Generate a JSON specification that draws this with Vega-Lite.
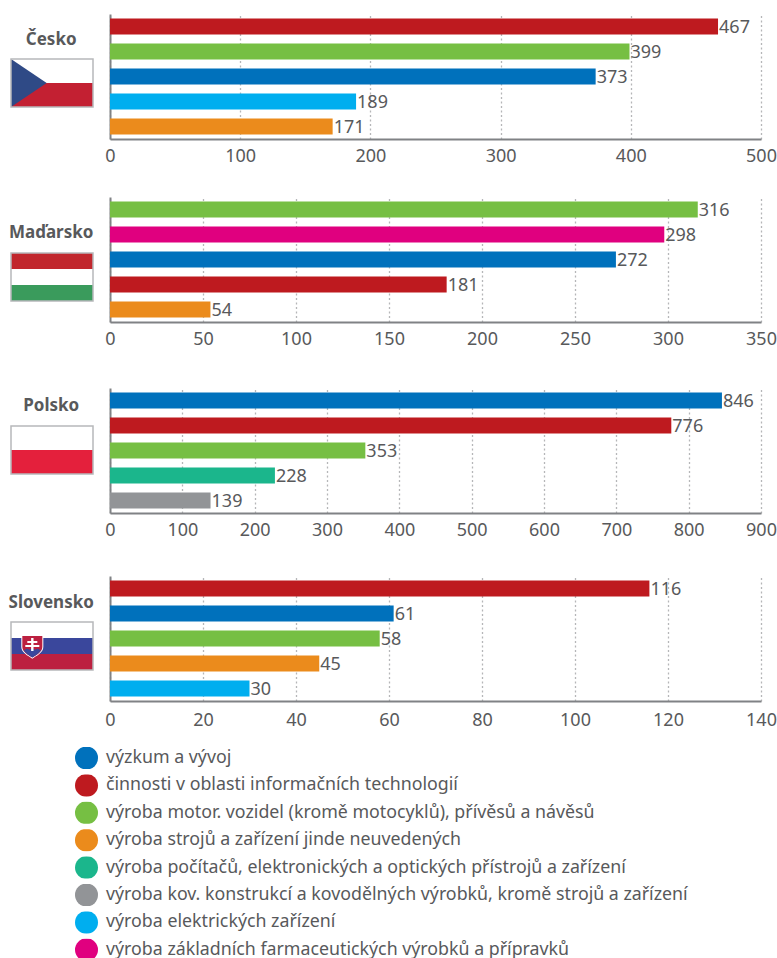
{
"$schema":"https://vega.github.io/schema/vega-lite/v6.json",
"padding":{"left":8,"top":14,"right":0,"bottom":0},
"background":"white",
"config":{"font":"Noto Sans","view":{"stroke":null},"text":{"color":"#58595b"},
"axisX":{"grid":true,"gridColor":"#b5b6b8","gridDash":[2,2.5],"gridWidth":1.3,"domainColor":"#808285","domainWidth":2,"ticks":false,"labelFontSize":18,"labelColor":"#58595b","labelPadding":8,"title":null,"labelFlush":false,"labelOverlap":false},
"axisY":{"grid":false,"domainColor":"#808285","domainWidth":2,"ticks":false,"labels":false,"title":null}},
"datasets":{
"cz":[{"a":"činnosti v oblasti informačních technologií","v":467},{"a":"výroba motor. vozidel (kromě motocyklů), přívěsů a návěsů","v":399},{"a":"výzkum a vývoj","v":373},{"a":"výroba elektrických zařízení","v":189},{"a":"výroba strojů a zařízení jinde neuvedených","v":171}],
"hu":[{"a":"výroba motor. vozidel (kromě motocyklů), přívěsů a návěsů","v":316},{"a":"výroba základních farmaceutických výrobků a přípravků","v":298},{"a":"výzkum a vývoj","v":272},{"a":"činnosti v oblasti informačních technologií","v":181},{"a":"výroba strojů a zařízení jinde neuvedených","v":54}],
"pl":[{"a":"výzkum a vývoj","v":846},{"a":"činnosti v oblasti informačních technologií","v":776},{"a":"výroba motor. vozidel (kromě motocyklů), přívěsů a návěsů","v":353},{"a":"výroba počítačů, elektronických a optických přístrojů a zařízení","v":228},{"a":"výroba kov. konstrukcí a kovodělných výrobků, kromě strojů a zařízení","v":139}],
"sk":[{"a":"činnosti v oblasti informačních technologií","v":116},{"a":"výzkum a vývoj","v":61},{"a":"výroba motor. vozidel (kromě motocyklů), přívěsů a návěsů","v":58},{"a":"výroba strojů a zařízení jinde neuvedených","v":45},{"a":"výroba elektrických zařízení","v":30}]
},
"resolve":{"scale":{"color":"shared","fill":"shared"},"legend":{"color":"shared"}},
"spacing":58,
"bounds":"flush",
"vconcat":[
{"width":651,"height":125,"resolve":{"scale":{"x":"independent","y":"independent"},"axis":{"x":"independent","y":"independent"}},
"layer":[
{"data":{"name":"cz"},"mark":{"type":"bar","size":16},"encoding":{"y":{"field":"a","type":"nominal","sort":{"field":"v","order":"descending"},"scale":{"paddingInner":0.36,"paddingOuter":0.18}},"x":{"field":"v","type":"quantitative","scale":{"domain":[0,500]},"axis":{"values":[0,100,200,300,400,500]}},"color":{"field":"a","type":"nominal","scale":{"domain":["výzkum a vývoj","činnosti v oblasti informačních technologií","výroba motor. vozidel (kromě motocyklů), přívěsů a návěsů","výroba strojů a zařízení jinde neuvedených","výroba počítačů, elektronických a optických přístrojů a zařízení","výroba kov. konstrukcí a kovodělných výrobků, kromě strojů a zařízení","výroba elektrických zařízení","výroba základních farmaceutických výrobků a přípravků"],"range":["#0071bc","#be1a1f","#76bf43","#eb8b1c","#1bb68c","#929497","#00aeef","#e0007f"]},"legend":{"title":null,"orient":"none","legendX":-35,"legendY":733,"symbolType":"circle","symbolSize":529,"symbolStrokeWidth":0,"symbolOpacity":1,"labelFontSize":17.8,"labelColor":"#58595b","labelLimit":700,"rowPadding":5.4,"padding":0,"labelOffset":8,"clipHeight":22}}}},
{"data":{"name":"cz"},"mark":{"type":"text","align":"left","dx":1,"dy":1,"fontSize":18},"encoding":{"y":{"field":"a","type":"nominal","sort":{"field":"v","order":"descending"},"scale":{"paddingInner":0.36,"paddingOuter":0.18},"axis":null},"x":{"field":"v","type":"quantitative","scale":{"domain":[0,500]},"axis":null},"text":{"field":"v"}}},
{"data":{"values":[{"p":"bílá","x0":0,"x1":1,"y0":0,"y1":0.5},{"p":"červená CZ","x0":0,"x1":1,"y0":0.5,"y1":1}]},"mark":{"type":"rect"},"encoding":{"x":{"field":"x0","type":"quantitative","scale":{"domain":[0,1],"range":[-99,-17],"zero":false,"nice":false},"axis":null},"x2":{"field":"x1"},"y":{"field":"y0","type":"quantitative","scale":{"domain":[0,1],"range":[45,93],"zero":false,"nice":false},"axis":null},"y2":{"field":"y1"},"fill":{"field":"p","type":"nominal","scale":{"domain":["bílá","červená CZ","modrá CZ","červená HU","zelená HU","červená PL","modrá SK","červená SK"],"range":["#ffffff","#c32032","#2f4a86","#c1272d","#3a9b5c","#e4203c","#3a479c","#bc2040"]},"legend":null}}},
{"data":{"values":[{"x":0,"y0":0,"y1":1},{"x":0.435,"y0":0.5,"y1":0.5}]},"mark":{"type":"area","orient":"vertical","color":"#2f4a86"},"encoding":{"x":{"field":"x","type":"quantitative","scale":{"domain":[0,1],"range":[-99,-17],"zero":false,"nice":false},"axis":null},"y":{"field":"y0","type":"quantitative","scale":{"domain":[0,1],"range":[45,93],"zero":false,"nice":false},"axis":null},"y2":{"field":"y1"}}},
{"data":{"values":[{"x0":0,"x1":1,"y0":0,"y1":1}]},"mark":{"type":"rect","filled":false,"stroke":"#b7b8ba","strokeWidth":1.5},"encoding":{"x":{"field":"x0","type":"quantitative","scale":{"domain":[0,1],"range":[-99,-17],"zero":false,"nice":false},"axis":null},"x2":{"field":"x1"},"y":{"field":"y0","type":"quantitative","scale":{"domain":[0,1],"range":[45,93],"zero":false,"nice":false},"axis":null},"y2":{"field":"y1"}}},
{"data":{"values":[{"n":"Česko","x":0.49,"y":-0.44}]},"mark":{"type":"text","fontSize":17,"fontWeight":"bold","color":"#58595b","dy":2},"encoding":{"x":{"field":"x","type":"quantitative","scale":{"domain":[0,1],"range":[-99,-17],"zero":false,"nice":false},"axis":null},"y":{"field":"y","type":"quantitative","scale":{"domain":[0,1],"range":[45,93],"zero":false,"nice":false},"axis":null},"text":{"field":"n"}}}
]},
{"spacing":66,"bounds":"flush","resolve":{"scale":{"color":"shared","fill":"shared"},"legend":{"color":"shared"}},"vconcat":[
{"width":651,"height":125,"resolve":{"scale":{"x":"independent","y":"independent"},"axis":{"x":"independent","y":"independent"}},
"layer":[
{"data":{"name":"hu"},"mark":{"type":"bar","size":16},"encoding":{"y":{"field":"a","type":"nominal","sort":{"field":"v","order":"descending"},"scale":{"paddingInner":0.36,"paddingOuter":0.18}},"x":{"field":"v","type":"quantitative","scale":{"domain":[0,350]},"axis":{"values":[0,50,100,150,200,250,300,350]}},"color":{"field":"a","type":"nominal"}}},
{"data":{"name":"hu"},"mark":{"type":"text","align":"left","dx":1,"dy":1,"fontSize":18},"encoding":{"y":{"field":"a","type":"nominal","sort":{"field":"v","order":"descending"},"scale":{"paddingInner":0.36,"paddingOuter":0.18},"axis":null},"x":{"field":"v","type":"quantitative","scale":{"domain":[0,350]},"axis":null},"text":{"field":"v"}}},
{"data":{"values":[{"p":"červená HU","x0":0,"x1":1,"y0":0,"y1":0.333},{"p":"bílá","x0":0,"x1":1,"y0":0.333,"y1":0.667},{"p":"zelená HU","x0":0,"x1":1,"y0":0.667,"y1":1}]},"mark":{"type":"rect"},"encoding":{"x":{"field":"x0","type":"quantitative","scale":{"domain":[0,1],"range":[-99,-17],"zero":false,"nice":false},"axis":null},"x2":{"field":"x1"},"y":{"field":"y0","type":"quantitative","scale":{"domain":[0,1],"range":[56,104],"zero":false,"nice":false},"axis":null},"y2":{"field":"y1"},"fill":{"field":"p","type":"nominal","legend":null}}},
{"data":{"values":[{"x0":0,"x1":1,"y0":0,"y1":1}]},"mark":{"type":"rect","filled":false,"stroke":"#b7b8ba","strokeWidth":1.5},"encoding":{"x":{"field":"x0","type":"quantitative","scale":{"domain":[0,1],"range":[-99,-17],"zero":false,"nice":false},"axis":null},"x2":{"field":"x1"},"y":{"field":"y0","type":"quantitative","scale":{"domain":[0,1],"range":[56,104],"zero":false,"nice":false},"axis":null},"y2":{"field":"y1"}}},
{"data":{"values":[{"n":"Maďarsko","x":0.49,"y":-0.46}]},"mark":{"type":"text","fontSize":17,"fontWeight":"bold","color":"#58595b","dy":2},"encoding":{"x":{"field":"x","type":"quantitative","scale":{"domain":[0,1],"range":[-99,-17],"zero":false,"nice":false},"axis":null},"y":{"field":"y","type":"quantitative","scale":{"domain":[0,1],"range":[56,104],"zero":false,"nice":false},"axis":null},"text":{"field":"n"}}}
]},
{"spacing":63,"bounds":"flush","resolve":{"scale":{"color":"shared","fill":"shared"},"legend":{"color":"shared"}},"vconcat":[
{"width":651,"height":125,"resolve":{"scale":{"x":"independent","y":"independent"},"axis":{"x":"independent","y":"independent"}},
"layer":[
{"data":{"name":"pl"},"mark":{"type":"bar","size":16},"encoding":{"y":{"field":"a","type":"nominal","sort":{"field":"v","order":"descending"},"scale":{"paddingInner":0.36,"paddingOuter":0.18}},"x":{"field":"v","type":"quantitative","scale":{"domain":[0,900]},"axis":{"values":[0,100,200,300,400,500,600,700,800,900]}},"color":{"field":"a","type":"nominal"}}},
{"data":{"name":"pl"},"mark":{"type":"text","align":"left","dx":1,"dy":1,"fontSize":18},"encoding":{"y":{"field":"a","type":"nominal","sort":{"field":"v","order":"descending"},"scale":{"paddingInner":0.36,"paddingOuter":0.18},"axis":null},"x":{"field":"v","type":"quantitative","scale":{"domain":[0,900]},"axis":null},"text":{"field":"v"}}},
{"data":{"values":[{"p":"bílá","x0":0,"x1":1,"y0":0,"y1":0.5},{"p":"červená PL","x0":0,"x1":1,"y0":0.5,"y1":1}]},"mark":{"type":"rect"},"encoding":{"x":{"field":"x0","type":"quantitative","scale":{"domain":[0,1],"range":[-99,-17],"zero":false,"nice":false},"axis":null},"x2":{"field":"x1"},"y":{"field":"y0","type":"quantitative","scale":{"domain":[0,1],"range":[38,86],"zero":false,"nice":false},"axis":null},"y2":{"field":"y1"},"fill":{"field":"p","type":"nominal","legend":null}}},
{"data":{"values":[{"x0":0,"x1":1,"y0":0,"y1":1}]},"mark":{"type":"rect","filled":false,"stroke":"#b7b8ba","strokeWidth":1.5},"encoding":{"x":{"field":"x0","type":"quantitative","scale":{"domain":[0,1],"range":[-99,-17],"zero":false,"nice":false},"axis":null},"x2":{"field":"x1"},"y":{"field":"y0","type":"quantitative","scale":{"domain":[0,1],"range":[38,86],"zero":false,"nice":false},"axis":null},"y2":{"field":"y1"}}},
{"data":{"values":[{"n":"Polsko","x":0.49,"y":-0.46}]},"mark":{"type":"text","fontSize":17,"fontWeight":"bold","color":"#58595b","dy":2},"encoding":{"x":{"field":"x","type":"quantitative","scale":{"domain":[0,1],"range":[-99,-17],"zero":false,"nice":false},"axis":null},"y":{"field":"y","type":"quantitative","scale":{"domain":[0,1],"range":[38,86],"zero":false,"nice":false},"axis":null},"text":{"field":"n"}}}
]},
{"width":651,"height":125,"resolve":{"scale":{"x":"independent","y":"independent"},"axis":{"x":"independent","y":"independent"}},
"layer":[
{"data":{"name":"sk"},"mark":{"type":"bar","size":16},"encoding":{"y":{"field":"a","type":"nominal","sort":{"field":"v","order":"descending"},"scale":{"paddingInner":0.36,"paddingOuter":0.18}},"x":{"field":"v","type":"quantitative","scale":{"domain":[0,140]},"axis":{"values":[0,20,40,60,80,100,120,140],"labelPadding":10}},"color":{"field":"a","type":"nominal"}}},
{"data":{"name":"sk"},"mark":{"type":"text","align":"left","dx":1,"dy":1,"fontSize":18},"encoding":{"y":{"field":"a","type":"nominal","sort":{"field":"v","order":"descending"},"scale":{"paddingInner":0.36,"paddingOuter":0.18},"axis":null},"x":{"field":"v","type":"quantitative","scale":{"domain":[0,140]},"axis":null},"text":{"field":"v"}}},
{"data":{"values":[{"p":"bílá","x0":0,"x1":1,"y0":0,"y1":0.333},{"p":"modrá SK","x0":0,"x1":1,"y0":0.333,"y1":0.667},{"p":"červená SK","x0":0,"x1":1,"y0":0.667,"y1":1}]},"mark":{"type":"rect"},"encoding":{"x":{"field":"x0","type":"quantitative","scale":{"domain":[0,1],"range":[-99,-17],"zero":false,"nice":false},"axis":null},"x2":{"field":"x1"},"y":{"field":"y0","type":"quantitative","scale":{"domain":[0,1],"range":[46,94],"zero":false,"nice":false},"axis":null},"y2":{"field":"y1"},"fill":{"field":"p","type":"nominal","legend":null}}},
{"data":{"values":[{"x":0.26,"y":0.5}]},"mark":{"type":"point","filled":true,"opacity":1,"color":"#ffffff","size":484,"shape":"M-1,-1H1V0.1C1,0.6 0.4,0.9 0,1.15C-0.4,0.9 -1,0.6 -1,0.1Z"},"encoding":{"x":{"field":"x","type":"quantitative","scale":{"domain":[0,1],"range":[-99,-17],"zero":false,"nice":false},"axis":null},"y":{"field":"y","type":"quantitative","scale":{"domain":[0,1],"range":[46,94],"zero":false,"nice":false},"axis":null}}},
{"data":{"values":[{"x":0.26,"y":0.5}]},"mark":{"type":"point","filled":true,"opacity":1,"color":"#bc2040","size":400,"shape":"M-1,-1H1V0.1C1,0.6 0.4,0.9 0,1.15C-0.4,0.9 -1,0.6 -1,0.1Z"},"encoding":{"x":{"field":"x","type":"quantitative","scale":{"domain":[0,1],"range":[-99,-17],"zero":false,"nice":false},"axis":null},"y":{"field":"y","type":"quantitative","scale":{"domain":[0,1],"range":[46,94],"zero":false,"nice":false},"axis":null}}},
{"data":{"values":[{"x":0.26,"y":0.5}]},"mark":{"type":"point","filled":true,"opacity":1,"color":"#3a479c","size":400,"shape":"M-0.85,0.45C-0.6,0.25 -0.45,0.2 -0.3,0.4C-0.2,0.2 0.2,0.2 0.3,0.4C0.45,0.2 0.6,0.25 0.85,0.45C0.7,0.7 0.4,0.9 0,1.15C-0.4,0.9 -0.7,0.7 -0.85,0.45Z"},"encoding":{"x":{"field":"x","type":"quantitative","scale":{"domain":[0,1],"range":[-99,-17],"zero":false,"nice":false},"axis":null},"y":{"field":"y","type":"quantitative","scale":{"domain":[0,1],"range":[46,94],"zero":false,"nice":false},"axis":null}}},
{"data":{"values":[{"x":0.26,"y":0.5}]},"mark":{"type":"point","filled":true,"opacity":1,"color":"#ffffff","size":400,"shape":"M-0.12,-0.8H0.12V-0.5H0.5V-0.3H0.12V-0.1H0.7V0.1H0.12V0.5H-0.12V0.1H-0.7V-0.1H-0.12V-0.3H-0.5V-0.5H-0.12Z"},"encoding":{"x":{"field":"x","type":"quantitative","scale":{"domain":[0,1],"range":[-99,-17],"zero":false,"nice":false},"axis":null},"y":{"field":"y","type":"quantitative","scale":{"domain":[0,1],"range":[46,94],"zero":false,"nice":false},"axis":null}}},
{"data":{"values":[{"x0":0,"x1":1,"y0":0,"y1":1}]},"mark":{"type":"rect","filled":false,"stroke":"#b7b8ba","strokeWidth":1.5},"encoding":{"x":{"field":"x0","type":"quantitative","scale":{"domain":[0,1],"range":[-99,-17],"zero":false,"nice":false},"axis":null},"x2":{"field":"x1"},"y":{"field":"y0","type":"quantitative","scale":{"domain":[0,1],"range":[46,94],"zero":false,"nice":false},"axis":null},"y2":{"field":"y1"}}},
{"data":{"values":[{"n":"Slovensko","x":0.49,"y":-0.44}]},"mark":{"type":"text","fontSize":17,"fontWeight":"bold","color":"#58595b","dy":2},"encoding":{"x":{"field":"x","type":"quantitative","scale":{"domain":[0,1],"range":[-99,-17],"zero":false,"nice":false},"axis":null},"y":{"field":"y","type":"quantitative","scale":{"domain":[0,1],"range":[46,94],"zero":false,"nice":false},"axis":null},"text":{"field":"n"}}}
]}
]}
]}
]
}
